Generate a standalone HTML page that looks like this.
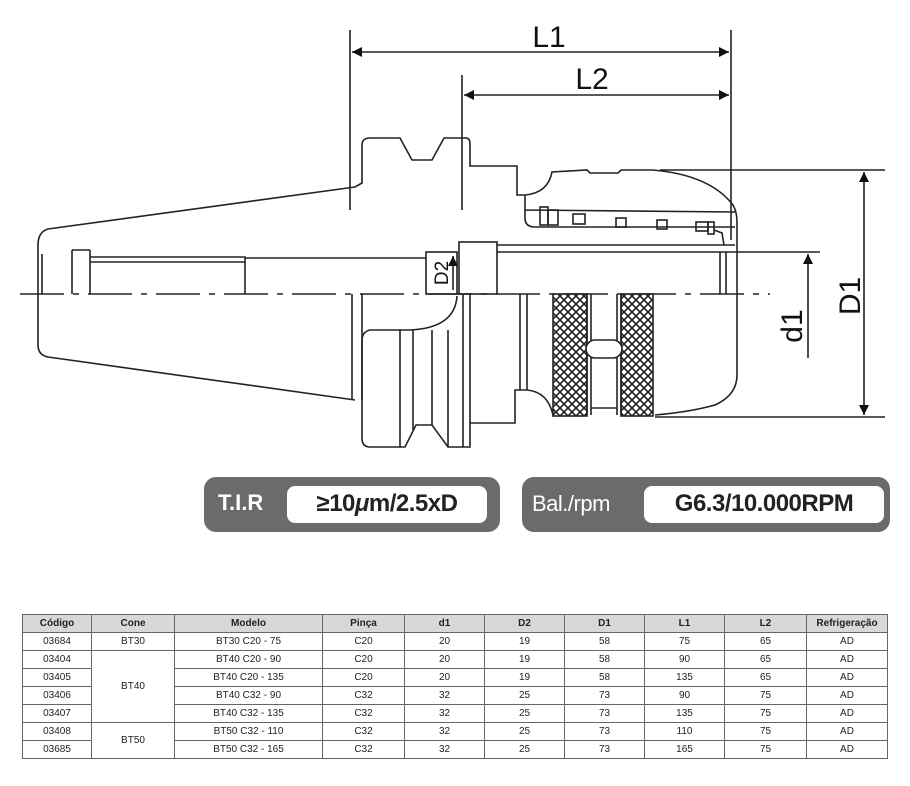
<!DOCTYPE html>
<html><head><meta charset="utf-8"><style>
body{margin:0;background:#fff;width:910px;height:786px;overflow:hidden;font-family:"Liberation Sans",sans-serif}
svg{position:absolute;left:0;top:0}
table{position:absolute;left:22px;top:614px;border-collapse:collapse;font-family:"Liberation Sans",sans-serif;font-size:10px;color:#222}
td,th{border:1.5px solid #666;text-align:center;padding:0;height:17px;line-height:17px}
th{background:#d8d8d8;font-weight:bold;height:16px;color:#222}
.b{position:absolute;background:#6b6b6b;border-radius:12px;color:#fff;font-weight:bold;font-size:22px}
.w{position:absolute;background:#fff;border-radius:8px;color:#222;text-align:center;font-size:24px;line-height:36px;font-weight:bold;letter-spacing:-0.5px}
</style></head><body>
<svg width="910" height="600" viewBox="0 0 910 600">
<defs>
<pattern id="kn" width="8" height="8" patternUnits="userSpaceOnUse">
<rect width="8" height="8" fill="#fff"/>
<path d="M0 0L8 8M8 0L0 8" stroke="#222" stroke-width="1.6"/>
</pattern>
<marker id="a" viewBox="0 0 10 10" refX="10" refY="5" markerWidth="18" markerHeight="10" orient="auto-start-reverse" markerUnits="userSpaceOnUse"><path d="M0 0L10 5L0 10z" fill="#111"/></marker>
</defs>
<g fill="none" stroke="#222" stroke-width="1.6">
<line x1="350" y1="30" x2="350" y2="210"/>
<line x1="731" y1="30" x2="731" y2="240"/>
<line x1="462" y1="75" x2="462" y2="210"/>
<line x1="352" y1="52" x2="729" y2="52" marker-start="url(#a)" marker-end="url(#a)"/>
<line x1="464" y1="95" x2="729" y2="95" marker-start="url(#a)" marker-end="url(#a)"/>
<line x1="660" y1="170" x2="885" y2="170"/>
<line x1="655" y1="417" x2="885" y2="417"/>
<line x1="864" y1="172" x2="864" y2="415" marker-start="url(#a)" marker-end="url(#a)"/>
<line x1="720" y1="252" x2="820" y2="252"/>
<line x1="808" y1="358" x2="808" y2="254" marker-end="url(#a)"/>
<line x1="20" y1="294" x2="770" y2="294" stroke-dasharray="44,9,6,9" stroke-width="1.4"/>
<path d="M355 187 L48 229 Q38 232 38 245 L38 345 Q38 355 48 357 L355 400"/>
<line x1="352" y1="294" x2="352" y2="400"/>
<line x1="362" y1="294" x2="362" y2="400"/>
<path d="M42 254 L42 294 M72 250 L90 250 M72 250 L72 294 M90 250 L90 294 M90 257 L245 257 L245 294 M90 262 L245 262 M245 258 L426 258"/>
<path d="M355 187 L362 183 L362 145 Q362 138 370 138 L400 138 L412 160 L432 160 L444 138 L466 138 Q470 138 470 144 L470 166 L517 166 L517 195 L525 195 Q548 193 552 172 L587 170 L590 173 L618 173 L621 170 L653 170 Q710 175 733 205 Q737 212 737 222 L737 375 Q737 395 715 405 Q690 412 655 415"/>
<path d="M525 195 L525 218 Q525 227 535 227 L735 227 M525 210 L735 212"/>
<rect x="540" y="207" width="8" height="18"/><rect x="548" y="210" width="10" height="15"/>
<rect x="573" y="214" width="12" height="10"/><rect x="616" y="218" width="10" height="9"/>
<rect x="657" y="220" width="10" height="9"/><rect x="696" y="222" width="12" height="9"/>
<rect x="708" y="222" width="6" height="12"/><path d="M714 230 L722 233 L724 245"/>
<line x1="497" y1="245" x2="735" y2="245"/>
<line x1="497" y1="252" x2="720" y2="252"/>
<line x1="720" y1="252" x2="720" y2="294"/><line x1="726" y1="252" x2="726" y2="294"/>
<rect x="426" y="252" width="31" height="42"/>
<rect x="459" y="242" width="38" height="52"/>
<line x1="453" y1="256" x2="453" y2="290" marker-start="url(#a)"/>
<path d="M457 296 Q455 328 410 330 L370 330 Q362 332 362 340 L362 438 Q362 447 370 447 L405 447 L416 425 L432 425 L448 447 L470 447 L470 423 L515 423 L515 390 L527 390 Q548 392 553 415"/>
<path d="M400 330 L400 447 M413 330 L413 430 M432 330 L432 425 M448 330 L448 447 M463 294 L463 447 M470 294 L470 423 M520 294 L520 390 M527 294 L527 390"/>
<rect x="553" y="294" width="34" height="122" fill="url(#kn)"/>
<rect x="621" y="294" width="32" height="122" fill="url(#kn)"/>
<line x1="587" y1="294" x2="587" y2="415"/><line x1="621" y1="294" x2="621" y2="415"/>
<line x1="591" y1="294" x2="591" y2="415"/><line x1="617" y1="294" x2="617" y2="415"/>
<rect x="586" y="340" width="36" height="18" rx="9" fill="#fff"/>
<line x1="591" y1="408" x2="617" y2="408"/>
</g>
<g font-family="Liberation Sans, sans-serif" fill="#111">
<text x="549" y="47" font-size="30" text-anchor="middle">L1</text>
<text x="592" y="89" font-size="30" text-anchor="middle">L2</text>
<text transform="translate(860,296) rotate(-90)" font-size="30" text-anchor="middle">D1</text>
<text transform="translate(802,326) rotate(-90)" font-size="30" text-anchor="middle">d1</text>
<text transform="translate(448,273) rotate(-90)" font-size="19" text-anchor="middle">D2</text>
</g>
</svg>
<div class="b" style="left:204px;top:477px;width:296px;height:55px"><span style="position:absolute;left:14px;top:13px">T.I.R</span>
<div class="w" style="left:83px;top:9px;width:200px;height:37px">≥10<i>μ</i>m/2.5xD</div></div>
<div class="b" style="left:522px;top:477px;width:368px;height:55px"><span style="position:absolute;left:10px;top:14px;font-weight:normal;letter-spacing:-0.5px">Bal./rpm</span>
<div class="w" style="left:122px;top:9px;width:240px;height:37px">G6.3/10.000RPM</div></div>
<table>
<tr><th style="width:68px">Código</th><th style="width:82px">Cone</th><th style="width:147px">Modelo</th><th style="width:81px">Pinça</th><th style="width:79px">d1</th><th style="width:79px">D2</th><th style="width:79px">D1</th><th style="width:79px">L1</th><th style="width:81px">L2</th><th style="width:80px">Refrigeração</th></tr>
<tr><td>03684</td><td>BT30</td><td>BT30 C20 - 75</td><td>C20</td><td>20</td><td>19</td><td>58</td><td>75</td><td>65</td><td>AD</td></tr>
<tr><td>03404</td><td rowspan="4">BT40</td><td>BT40 C20 - 90</td><td>C20</td><td>20</td><td>19</td><td>58</td><td>90</td><td>65</td><td>AD</td></tr>
<tr><td>03405</td><td>BT40 C20 - 135</td><td>C20</td><td>20</td><td>19</td><td>58</td><td>135</td><td>65</td><td>AD</td></tr>
<tr><td>03406</td><td>BT40 C32 - 90</td><td>C32</td><td>32</td><td>25</td><td>73</td><td>90</td><td>75</td><td>AD</td></tr>
<tr><td>03407</td><td>BT40 C32 - 135</td><td>C32</td><td>32</td><td>25</td><td>73</td><td>135</td><td>75</td><td>AD</td></tr>
<tr><td>03408</td><td rowspan="2">BT50</td><td>BT50 C32 - 110</td><td>C32</td><td>32</td><td>25</td><td>73</td><td>110</td><td>75</td><td>AD</td></tr>
<tr><td>03685</td><td>BT50 C32 - 165</td><td>C32</td><td>32</td><td>25</td><td>73</td><td>165</td><td>75</td><td>AD</td></tr>
</table>
</body></html>
